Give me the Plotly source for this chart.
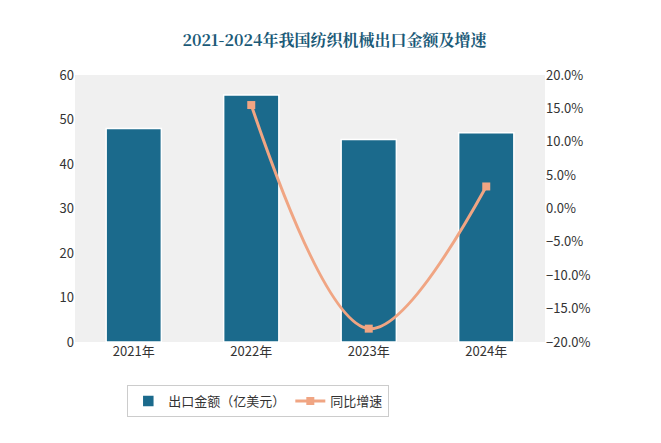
import plotly.graph_objects as go

years = ["2021年", "2022年", "2023年", "2024年"]
export_amount = [48.0, 55.5, 45.5, 47.0]
growth_years = ["2022年", "2023年", "2024年"]
growth_rate = [15.5, -18.0, 3.3]

fig = go.Figure()
fig.add_trace(go.Bar(x=years, y=export_amount, name="出口金额（亿美元）",
                     marker=dict(color="#1b6a8c", line=dict(color="white", width=1.5)),
                     width=0.47))
fig.add_trace(go.Scatter(x=growth_years, y=growth_rate, name="同比增速", yaxis="y2",
                         mode="lines+markers", line=dict(color="#f0a583", width=3, shape="spline"),
                         marker=dict(symbol="square", size=8, color="#f0a583")))

fig.update_layout(
    width=653, height=435,
    margin=dict(l=67, r=116, t=67, b=101, autoexpand=False),
    paper_bgcolor="white", plot_bgcolor="#f0f0f0",
    font=dict(family="Noto Sans CJK SC", size=13, color="#333"),
    title=dict(text="<b>2021-2024年我国纺织机械出口金额及增速</b>", x=0.5, xanchor="center",
               y=0.926, yanchor="middle", yref="container",
               font=dict(size=16, color="#1b5a78", family="Noto Serif CJK SC, Noto Sans CJK SC")),
    xaxis=dict(showgrid=False, showline=False, ticks=""),
    yaxis=dict(range=[0, 60], dtick=10, showgrid=False, zeroline=False, tickfont=dict(size=13)),
    yaxis2=dict(range=[-20, 20], dtick=5, overlaying="y", side="right", showgrid=False,
                zeroline=False, ticksuffix=".0%", tickfont=dict(size=13)),
    legend=dict(orientation="h", x=0.39, xanchor="center", y=0.133, yanchor="top", yref="container",
                font=dict(size=13), bordercolor="#cccccc", borderwidth=1),
    showlegend=True,
)
fig.write_html("out.html")
